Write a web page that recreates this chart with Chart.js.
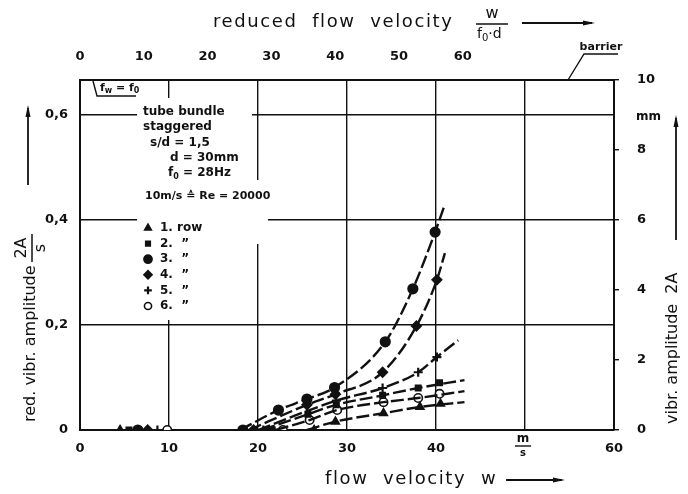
<!DOCTYPE html>
<html>
<head>
<meta charset="utf-8">
<script src="https://cdn.jsdelivr.net/npm/chart.js@4.4.1/dist/chart.umd.min.js"></script>
<style>
  body { margin: 0; background: #fff; }
  #wrap { width: 688px; height: 494px; }
</style>
</head>
<body>
<div id="wrap"><canvas id="chart"></canvas></div>
<script>
// flow velocity w [m/s] and reduced amplitude 2A/s, measured points per tube row
const row1W = [4.5, 26.3, 28.7, 34.1, 38.2, 40.5];
const row1A = [0, 0, 0.016, 0.032, 0.044, 0.050];
const row2W = [5.5, 21.6, 25.6, 28.8, 34.0, 38.0, 40.4];
const row2A = [0, 0, 0.030, 0.048, 0.066, 0.080, 0.090];
const row3W = [6.5, 18.3, 22.3, 25.5, 28.6, 34.3, 37.4, 39.9];
const row3A = [0, 0, 0.038, 0.059, 0.081, 0.168, 0.269, 0.377];
const row4W = [7.6, 19.5, 25.5, 28.7, 34.0, 37.8, 40.1];
const row4A = [0, 0, 0.048, 0.068, 0.110, 0.198, 0.286];
const row5W = [8.7, 20.6, 28.8, 34.0, 38.0, 40.1];
const row5A = [0, 0, 0.056, 0.080, 0.110, 0.139];
const row6W = [9.8, 22.8, 25.8, 28.9, 34.1, 38.0, 40.4];
const row6A = [0, 0, 0.019, 0.038, 0.053, 0.061, 0.069];

// hand drawn curves through the points
const fit1W = [25.5, 28.7, 34.1, 38.2, 43.2];
const fit1A = [0, 0.016, 0.032, 0.044, 0.053];
const fit2W = [20.5, 25.6, 28.8, 34.0, 38.0, 43.2];
const fit2A = [0, 0.030, 0.048, 0.066, 0.080, 0.095];
const fit3W = [18.0, 22.3, 25.5, 28.6, 34.3, 37.4, 39.9, 40.9];
const fit3A = [0, 0.038, 0.059, 0.081, 0.168, 0.269, 0.377, 0.425];
const fit4W = [19.0, 25.5, 28.7, 34.0, 37.8, 40.1, 41.0];
const fit4A = [0, 0.048, 0.068, 0.110, 0.198, 0.286, 0.337];
const fit5W = [20.0, 28.8, 34.0, 38.0, 40.1, 42.5];
const fit5A = [0, 0.056, 0.080, 0.110, 0.139, 0.171];
const fit6W = [22.0, 25.8, 28.9, 34.1, 38.0, 43.2];
const fit6A = [0, 0.019, 0.038, 0.053, 0.061, 0.074];

const velTicks = [0, 10, 20, 30, 40, 50, 60];
const redVelTicks = [0, 10, 20, 30, 40, 50, 60];
const ampTicks = [0, 0.2, 0.4, 0.6];
const ampLabels = ['0', '0,2', '0,4', '0,6'];
const mmTicks = [0, 2, 4, 6, 8, 10];
const legendLabels = ['1. row', '2.  \u201D', '3.  \u201D', '4.  \u201D', '5.  \u201D', '6.  \u201D'];

const INK = '#111';
const toXY = (ws, as) => ws.map((w, i) => ({ x: w, y: as[i] }));

const marks = [
    { style: 'triangle', r: 4.5, fill: INK },
    { style: 'rect', r: 3.8, fill: INK },
    { style: 'circle', r: 4.8, fill: INK },
    { style: 'rectRot', r: 4.8, fill: INK },
    { style: 'cross', r: 4.5, fill: INK },
    { style: 'circle', r: 4.2, fill: '#fff' }
];

const rowPoints = [[row1W, row1A], [row2W, row2A], [row3W, row3A], [row4W, row4A], [row5W, row5A], [row6W, row6A]];
const rowFits = [[fit1W, fit1A], [fit2W, fit2A], [fit3W, fit3A], [fit4W, fit4A], [fit5W, fit5A], [fit6W, fit6A]];

const datasets = [];
rowFits.forEach(f => {
    datasets.push({
        data: toXY(f[0], f[1]),
        showLine: true,
        borderColor: INK,
        borderWidth: 2.4,
        borderDash: [13, 4],
        cubicInterpolationMode: 'monotone',
        pointRadius: 0,
        xAxisID: 'x', yAxisID: 'y'
    });
});
rowPoints.forEach((p, i) => {
    const m = marks[i];
    datasets.push({
        data: toXY(p[0], p[1]),
        showLine: false,
        pointStyle: m.style,
        pointRadius: m.r,
        pointBackgroundColor: m.fill,
        pointBorderColor: INK,
        pointBorderWidth: m.style === 'cross' ? 2.2 : 1.6,
        xAxisID: 'x', yAxisID: 'y'
    });
});

function drawArrow(ctx, x1, y1, x2, y2) {
    ctx.beginPath();
    ctx.moveTo(x1, y1);
    ctx.lineTo(x2, y2);
    ctx.stroke();
    const ang = Math.atan2(y2 - y1, x2 - x1);
    ctx.beginPath();
    ctx.moveTo(x2 + 3 * Math.cos(ang), y2 + 3 * Math.sin(ang));
    ctx.lineTo(x2 - 9 * Math.cos(ang) - 2.5 * Math.sin(ang), y2 - 9 * Math.sin(ang) + 2.5 * Math.cos(ang));
    ctx.lineTo(x2 - 9 * Math.cos(ang) + 2.5 * Math.sin(ang), y2 - 9 * Math.sin(ang) - 2.5 * Math.cos(ang));
    ctx.closePath();
    ctx.fill();
}

// text with a subscript, returns the end x
function subText(ctx, base, sub, x, y, size, weight) {
    ctx.font = weight + ' ' + size + 'px "DejaVu Sans"';
    ctx.fillText(base, x, y);
    x += ctx.measureText(base).width;
    ctx.font = weight + ' ' + Math.round(size * 0.7) + 'px "DejaVu Sans"';
    ctx.fillText(sub, x, y + size * 0.3);
    return x + ctx.measureText(sub).width;
}

const paperPlugin = {
    id: 'paper',
    beforeDatasetsDraw(chart) {
        // gaps in the grid behind the annotation block
        const ctx = chart.ctx;
        ctx.save();
        ctx.fillStyle = '#fff';
        ctx.fillRect(137, 98, 115, 222);
        ctx.fillRect(246, 180, 22, 64);
        ctx.restore();
    },
    afterDraw(chart) {
        const ctx = chart.ctx;
        ctx.save();
        ctx.fillStyle = INK;
        ctx.strokeStyle = INK;
        ctx.textBaseline = 'middle';
        ctx.textAlign = 'left';

        // top title
        ctx.font = '18px "DejaVu Sans"';
        ctx.letterSpacing = '1.6px';
        ctx.fillText('reduced  flow  velocity', 213, 22);
        ctx.letterSpacing = '0px';
        ctx.textAlign = 'center';
        ctx.font = '16px "DejaVu Sans"';
        ctx.fillText('w', 492, 14);
        ctx.lineWidth = 1.5;
        ctx.beginPath(); ctx.moveTo(476, 24); ctx.lineTo(508, 24); ctx.stroke();
        ctx.textAlign = 'left';
        let e = subText(ctx, 'f', '0', 477, 34, 14, 'normal');
        ctx.font = '14px "DejaVu Sans"';
        ctx.fillText('\u00B7d', e, 34);
        ctx.lineWidth = 1.8;
        drawArrow(ctx, 522, 23, 592, 23);

        // bottom title
        ctx.font = '18px "DejaVu Sans"';
        ctx.letterSpacing = '1.6px';
        ctx.fillText('flow  velocity  w', 325, 479);
        ctx.letterSpacing = '0px';
        drawArrow(ctx, 506, 480, 562, 480);

        // m/s unit at the 50 tick
        ctx.textAlign = 'center';
        ctx.font = 'bold 12px "DejaVu Sans"';
        ctx.fillText('m', 523, 439);
        ctx.lineWidth = 1.4;
        ctx.beginPath(); ctx.moveTo(515, 446); ctx.lineTo(531, 446); ctx.stroke();
        ctx.font = 'bold 10px "DejaVu Sans"';
        ctx.fillText('s', 523, 453);

        // left title
        ctx.save();
        ctx.translate(31, 0);
        ctx.rotate(-Math.PI / 2);
        ctx.textAlign = 'left';
        ctx.font = '16px "DejaVu Sans"';
        ctx.fillText('red. vibr. amplitude', -422, 0);
        ctx.textAlign = 'center';
        ctx.fillText('2A', -248, -9);
        ctx.lineWidth = 1.5;
        ctx.beginPath(); ctx.moveTo(-262, 1); ctx.lineTo(-234, 1); ctx.stroke();
        ctx.fillText('s', -248, 10);
        ctx.lineWidth = 1.8;
        drawArrow(ctx, -185, -3, -108, -3);
        ctx.restore();

        // right title
        ctx.save();
        ctx.translate(673, 0);
        ctx.rotate(-Math.PI / 2);
        ctx.textAlign = 'left';
        ctx.font = '16px "DejaVu Sans"';
        ctx.fillText('vibr. amplitude  2A', -424, 0);
        ctx.lineWidth = 1.8;
        drawArrow(ctx, -240, 3, -118, 3);
        ctx.restore();

        // right unit and barrier mark
        ctx.textAlign = 'left';
        ctx.font = 'bold 12px "DejaVu Sans"';
        ctx.fillText('mm', 636, 117);
        ctx.textAlign = 'center';
        ctx.font = 'bold 11px "DejaVu Sans"';
        ctx.fillText('barrier', 601, 47);
        ctx.lineWidth = 1.4;
        ctx.beginPath();
        ctx.moveTo(618, 54); ctx.lineTo(584, 54); ctx.lineTo(568, 80);
        ctx.stroke();

        // fw = f0 mark
        ctx.beginPath();
        ctx.moveTo(93, 81); ctx.lineTo(97, 96); ctx.lineTo(136, 96);
        ctx.stroke();
        ctx.textAlign = 'left';
        e = subText(ctx, 'f', 'w', 100, 88, 11, 'bold');
        ctx.font = 'bold 11px "DejaVu Sans"';
        ctx.fillText(' = ', e, 88);
        e += ctx.measureText(' = ').width;
        subText(ctx, 'f', '0', e, 88, 11, 'bold');

        // description block
        ctx.font = 'bold 12px "DejaVu Sans"';
        ctx.fillText('tube bundle', 143, 112);
        ctx.fillText('staggered', 143, 127);
        ctx.fillText('s/d = 1,5', 150, 143);
        ctx.fillText('d = 30mm', 170, 158);
        e = subText(ctx, 'f', '0', 168, 173, 12, 'bold');
        ctx.font = 'bold 12px "DejaVu Sans"';
        ctx.fillText(' = 28Hz', e, 173);
        ctx.font = 'bold 11px "DejaVu Sans"';
        ctx.fillText('10m/s \u2259 Re = 20000', 145, 196);

        // legend
        legendLabels.forEach((lab, i) => {
            const y = 228 + i * 15.6;
            const m = marks[i];
            ctx.font = 'bold 12px "DejaVu Sans"';
            ctx.fillStyle = INK;
            ctx.textAlign = 'left';
            ctx.fillText(lab, 160, y);
            ctx.lineWidth = m.style === 'cross' ? 2.2 : 1.6;
            ctx.fillStyle = m.fill;
            Chart.helpers.drawPoint(ctx, { pointStyle: m.style, radius: m.r * 0.85, borderWidth: ctx.lineWidth }, 148, y);
            ctx.fillStyle = INK;
        });
        ctx.restore();
    }
};

const tickFont = { family: 'DejaVu Sans', size: 13, weight: 'bold' };

new Chart(document.getElementById('chart'), {
    type: 'scatter',
    data: { datasets: datasets },
    options: {
        responsive: true,
        maintainAspectRatio: false,
        devicePixelRatio: 1,
        animation: false,
        layout: { padding: 0 },
        plugins: { legend: { display: false }, tooltip: { enabled: false } },
        scales: {
            x: {
                type: 'linear', position: 'bottom', min: 0, max: 60,
                afterBuildTicks: ax => { ax.ticks = velTicks.map(v => ({ value: v })); },
                afterFit: ax => { ax.height = 64; },
                ticks: { color: INK, font: tickFont, padding: 11, maxRotation: 0,
                    callback: v => (v === 50 ? '' : String(v)) },
                grid: { color: INK, lineWidth: 1.4, drawTicks: false },
                border: { color: INK, width: 2 }
            },
            x2: {
                type: 'linear', position: 'top', min: 0, max: 83.7,
                afterBuildTicks: ax => { ax.ticks = redVelTicks.map(v => ({ value: v })); },
                afterFit: ax => { ax.height = 80; },
                ticks: { color: INK, font: tickFont, padding: 16, maxRotation: 0 },
                grid: { drawOnChartArea: false, drawTicks: false },
                border: { color: INK, width: 2 }
            },
            y: {
                type: 'linear', position: 'left', min: 0, max: 0.6667,
                afterBuildTicks: ax => { ax.ticks = ampTicks.map(v => ({ value: v })); },
                afterFit: ax => { ax.width = 80; },
                ticks: { color: INK, font: tickFont, padding: 12,
                    callback: v => ampLabels[ampTicks.indexOf(v)] },
                grid: { color: INK, lineWidth: 1.4, drawTicks: false },
                border: { color: INK, width: 2 }
            },
            y2: {
                type: 'linear', position: 'right', min: 0, max: 10,
                afterBuildTicks: ax => { ax.ticks = mmTicks.map(v => ({ value: v })); },
                afterFit: ax => { ax.width = 74; },
                ticks: { color: INK, font: tickFont, padding: 18 },
                grid: { drawOnChartArea: false, color: INK, tickLength: 5, lineWidth: 1.4 },
                border: { color: INK, width: 2 }
            }
        }
    },
    plugins: [paperPlugin]
});
</script>
</body>
</html>
